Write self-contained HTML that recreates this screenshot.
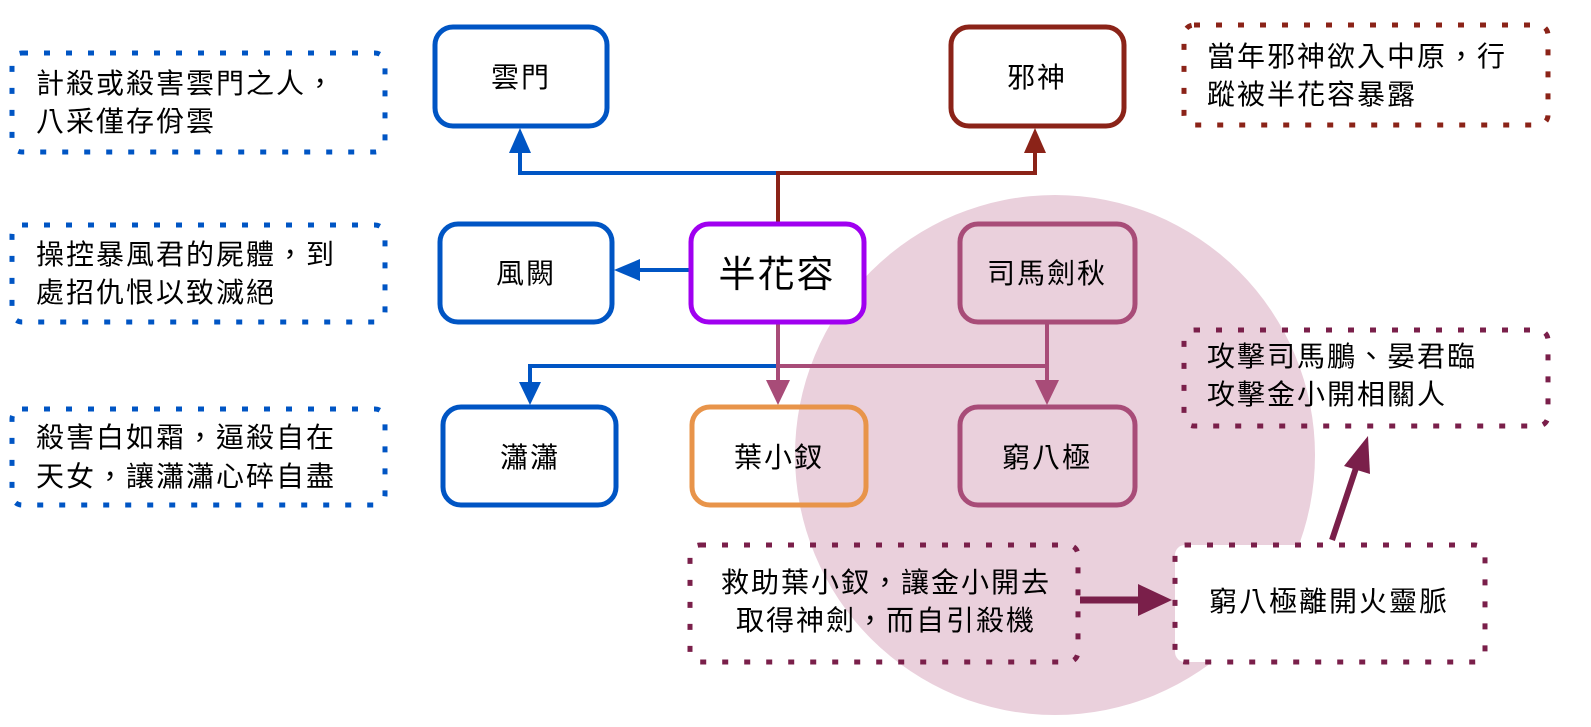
<!DOCTYPE html>
<html><head><meta charset="utf-8"><style>
html,body{margin:0;padding:0;background:#fff;}
svg{display:block;}
text{font-family:"Liberation Sans","Noto Sans CJK TC",sans-serif;fill:#000;}
</style></head><body>
<svg width="1591" height="727" viewBox="0 0 1591 727" xmlns="http://www.w3.org/2000/svg">
<circle cx="1055" cy="455" r="260" fill="#ead0dc"/>
<g fill="none" stroke-width="4">
<polyline points="778,173 520,173 520,150" stroke="#0055c4"/>
<polyline points="778,224 778,173 1035,173 1035,150" stroke="#8b2318"/>
<line x1="691" y1="270" x2="640" y2="270" stroke="#0055c4"/>
<polyline points="778,366 530,366 530,385" stroke="#0055c4"/>
<line x1="778" y1="322" x2="778" y2="385" stroke="#a84c78"/>
<line x1="778" y1="366" x2="1047" y2="366" stroke="#a84c78"/>
<line x1="1047" y1="322" x2="1047" y2="385" stroke="#a84c78"/>
<line x1="1080" y1="600" x2="1140" y2="600" stroke="#7a1f4a" stroke-width="7"/>
<line x1="1332" y1="540" x2="1356" y2="468" stroke="#7a1f4a" stroke-width="6"/>
</g>
<polygon points="520,128 509,153 531,153" fill="#0055c4"/>
<polygon points="1035,128 1024,153 1046,153" fill="#8b2318"/>
<polygon points="614,270 640,259 640,281" fill="#0055c4"/>
<polygon points="530,405 519,382 541,382" fill="#0055c4"/>
<polygon points="778,405 766,380 790,380" fill="#a84c78"/>
<polygon points="1047,405 1035,380 1059,380" fill="#a84c78"/>
<polygon points="1172,600 1138,584 1138,616" fill="#7a1f4a"/>
<polygon points="1368,436 1344,466 1370,474" fill="#7a1f4a"/>
<g stroke-width="5">
<rect x="435" y="27" width="172" height="99" rx="18" fill="#fff" stroke="#0055c4"/>
<rect x="951" y="27" width="173" height="99" rx="18" fill="#fff" stroke="#8b2318"/>
<rect x="440" y="224" width="172" height="98" rx="18" fill="#fff" stroke="#0055c4"/>
<rect x="691" y="224" width="173" height="98" rx="18" fill="#fff" stroke="#a000f0"/>
<rect x="960" y="224" width="175" height="98" rx="18" fill="none" stroke="#a84c78"/>
<rect x="443" y="407" width="173" height="98" rx="18" fill="#fff" stroke="#0055c4"/>
<rect x="692" y="407" width="174" height="98" rx="18" fill="none" stroke="#e8944a"/>
<rect x="960" y="407" width="175" height="98" rx="18" fill="none" stroke="#a84c78"/>
</g>
<g fill="none" stroke-width="5" stroke-dasharray="6 16">
<rect x="12" y="53" width="373" height="99" rx="10" stroke="#0055c4"/>
<rect x="12" y="225" width="373" height="97" rx="10" stroke="#0055c4"/>
<rect x="12" y="409" width="373" height="96" rx="10" stroke="#0055c4"/>
<rect x="1184" y="25" width="364" height="100" rx="10" stroke="#8b2318"/>
<rect x="1184" y="330" width="364" height="96" rx="10" stroke="#7a1f4a"/>
<rect x="690" y="545" width="388" height="117" rx="10" stroke="#7a1f4a"/>
<rect x="1175" y="545" width="310" height="117" rx="10" fill="#fff" stroke="#7a1f4a"/>
</g>
<g font-size="28" text-anchor="middle" letter-spacing="2">
<text x="521" y="87">雲門</text>
<text x="1037" y="87">邪神</text>
<text x="526" y="283">風闕</text>
<text x="777" y="287" font-size="37">半花容</text>
<text x="1047" y="283">司馬劍秋</text>
<text x="530" y="467">瀟瀟</text>
<text x="779" y="467">葉小釵</text>
<text x="1047" y="467">窮八極</text>
</g>
<g font-size="28" letter-spacing="2">
<text x="36" y="93">計殺或殺害雲門之人，</text>
<text x="36" y="131">八采僅存佾雲</text>
<text x="36" y="264">操控暴風君的屍體，到</text>
<text x="36" y="302">處招仇恨以致滅絕</text>
<text x="36" y="447">殺害白如霜，逼殺自在</text>
<text x="36" y="486">天女，讓瀟瀟心碎自盡</text>
<text x="1207" y="66">當年邪神欲入中原，行</text>
<text x="1207" y="104">蹤被半花容暴露</text>
<text x="1207" y="366">攻擊司馬鵬、晏君臨</text>
<text x="1207" y="404">攻擊金小開相關人</text>
</g>
<g font-size="28" text-anchor="middle" letter-spacing="2">
<text x="886" y="592">救助葉小釵，讓金小開去</text>
<text x="886" y="630">取得神劍，而自引殺機</text>
<text x="1329" y="611">窮八極離開火靈脈</text>
</g>
</svg>
</body></html>
